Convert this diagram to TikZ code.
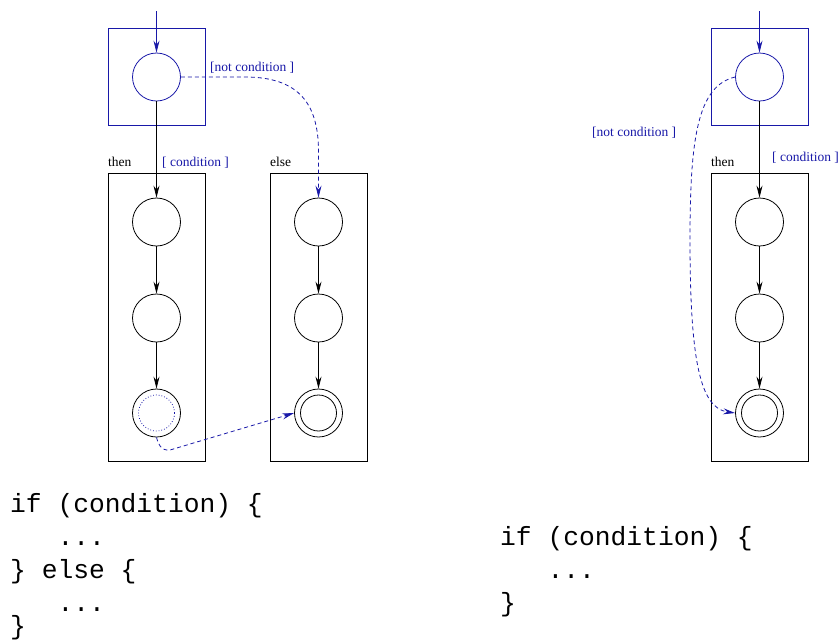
\documentclass[tikz,border=0pt]{standalone}
\usepackage{fontspec}
\setmainfont{Liberation Serif}
\newfontfamily\codefont{Liberation Mono}
\usetikzlibrary{arrows.meta}
\definecolor{ablue}{RGB}{24,24,168}
\begin{document}
\begin{tikzpicture}[x=1pt,y=-1pt,
  state/.style={circle,draw,line width=0.8pt,minimum size=48pt,inner sep=0pt},
  bstate/.style={state,draw=ablue},
  frame/.style={draw,line width=0.8pt},
  bframe/.style={draw=ablue,line width=0.8pt},
  flow/.style={line width=0.8pt,-{Stealth[length=12pt,width=6pt,inset=4pt]}},
  bflow/.style={flow,draw=ablue},
  alt/.style={flow,draw=ablue,dashed,dash pattern=on 4pt off 3pt},
  lab/.style={font=\fontsize{13.5}{14}\selectfont,anchor=base west,inner sep=0pt},
  blab/.style={lab,text=ablue},
  code/.style={font=\codefont\fontsize{26.3}{30}\selectfont,anchor=base west,inner sep=0pt}
]
\useasboundingbox (0,0) rectangle (840,641);
% ---------- left diagram ----------
\node[bframe,minimum size=97pt,inner sep=0pt] (lbox) at (156.5,76.5) {};
\node[frame,minimum width=97pt,minimum height=288pt,inner sep=0pt] (lthen) at (156.5,317) {};
\node[frame,minimum width=97pt,minimum height=288pt,inner sep=0pt] (lelse) at (318.5,317) {};
\node[bstate] (ls) at (156.5,77) {};
\coordinate (lin) at (156.5,11);
\node[state] (lt1) at (156.5,222) {};
\node[state] (lt2) at (156.5,318) {};
\node[state] (lt3) at (156.5,413) {};
\node[state] (le1) at (318.5,222) {};
\node[state] (le2) at (318.5,318) {};
\node[state] (le3) at (318.5,413) {};
\draw[line width=0.8pt] (le3) circle (18pt);
\draw[draw=ablue,line width=0.8pt,dotted] (lt3) circle (18pt);
\node[lab] (lthenl) at (108,166) {then};
\node[lab] (lelsel) at (270,166) {else};
\node[blab] (lcond) at (162,166) {[ condition ]};
\node[blab] (lncond) at (210,71) {[not condition ]};
\draw[bflow] (lin) -- (ls);
\draw[flow] (ls) -- (lt1);
\draw[flow] (lt1) -- (lt2);
\draw[flow] (lt2) -- (lt3);
\draw[flow] (le1) -- (le2);
\draw[flow] (le2) -- (le3);
\draw[alt] (ls.east) -- (245,77) .. controls (300,77) and (318,105) .. (318.5,150) -- (le1.north);
\draw[alt] (lt3.south) .. controls (158,444) and (161,451) .. (170,450) -- (le3.west);
\node[code] (c1) at (10,512) {if (condition) \{};
\node[code] (c2) at (10,545) {\ \ \ ...};
\node[code] (c3) at (10,578) {\} else \{};
\node[code] (c4) at (10,611) {\ \ \ ...};
\node[code] (c5) at (10,634) {\}};
% ---------- right diagram ----------
\node[bframe,minimum size=97pt,inner sep=0pt] (rbox) at (759.5,76.5) {};
\node[frame,minimum width=97pt,minimum height=288pt,inner sep=0pt] (rthen) at (759.5,317) {};
\node[bstate] (rs) at (759.5,77) {};
\coordinate (rin) at (759.5,11);
\node[state] (rt1) at (759.5,222) {};
\node[state] (rt2) at (759.5,318) {};
\node[state] (rt3) at (759.5,413) {};
\draw[line width=0.8pt] (rt3) circle (18pt);
\node[lab] (rthenl) at (711,166) {then};
\node[blab] (rcond) at (772,161) {[ condition ]};
\node[blab] (rncond) at (592,136) {[not condition ]};
\draw[bflow] (rin) -- (rs);
\draw[flow] (rs) -- (rt1);
\draw[flow] (rt1) -- (rt2);
\draw[flow] (rt2) -- (rt3);
\draw[alt] (rs.west) .. controls (697,86) and (690,140) .. (690,240) .. controls (690,360) and (700,408) .. (rt3.west);
\node[code] (d1) at (500,545) {if (condition) \{};
\node[code] (d2) at (500,578) {\ \ \ ...};
\node[code] (d3) at (500,611) {\}};
\end{tikzpicture}
\end{document}
